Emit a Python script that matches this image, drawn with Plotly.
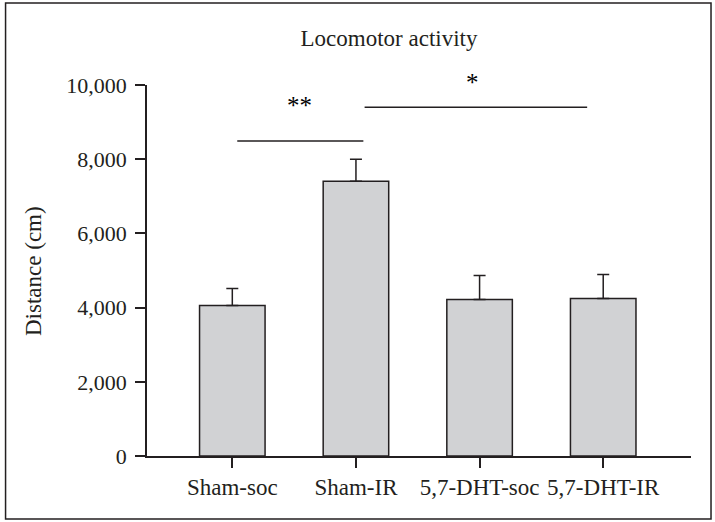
import plotly.graph_objects as go

categories = ["Sham-soc", "Sham-IR", "5,7-DHT-soc", "5,7-DHT-IR"]
means = [4055, 7405, 4215, 4245]
sem = [460, 595, 650, 645]
y_ticks = [0, 2000, 4000, 6000, 8000, 10000]
y_ticktext = ["0", "2,000", "4,000", "6,000", "8,000", "10,000"]

# (line x0, line x1, line y, label, label x, label y in paper units)
sig_pairs = [(0.04, 1.06, 8490, "**", 0.54, 0.946), (1.07, 2.87, 9400, "*", 1.94, 1.008)]

FONT = "Liberation Serif"
INK = "#231f20"

xpos = list(range(len(categories)))

fig = go.Figure()
fig.add_trace(go.Bar(
    x=xpos, y=means, width=0.53,
    marker=dict(color="#d1d2d4", line=dict(color=INK, width=1.5)),
    error_y=dict(type="data", array=sem, arrayminus=[0] * len(sem), symmetric=False,
                 color=INK, thickness=1.5, width=6),
    showlegend=False,
))

shapes = []
annotations = []
for x0, x1, yl, txt, xt, yt in sig_pairs:
    shapes.append(dict(type="line", xref="x", yref="y", x0=x0, x1=x1, y0=yl, y1=yl,
                       line=dict(color=INK, width=1.5)))
    annotations.append(dict(x=xt, y=yt, xref="x", yref="paper", text=txt, showarrow=False,
                            font=dict(family=FONT, size=25, color="#000000"),
                            xanchor="center", yanchor="middle"))

# border around whole figure
shapes.append(dict(type="rect", xref="paper", yref="paper", x0=-0.260, x1=1.0368, y0=-0.170, y1=1.221,
                   line=dict(color=INK, width=1.5), layer="below"))

annotations.append(dict(x=-0.2077, y=0.4987, xref="paper", yref="paper", text="Distance (cm)",
                        textangle=-90, showarrow=False, xanchor="center", yanchor="middle",
                        font=dict(family=FONT, size=23, color=INK)))

fig.update_layout(
    width=715, height=522,
    margin=dict(l=147, r=24, t=85, b=66),
    paper_bgcolor="white", plot_bgcolor="white",
    title=dict(text="Locomotor activity", x=389 / 715, xref="container", xanchor="center",
               y=1 - 38 / 522, yanchor="middle", yref="container",
               font=dict(family=FONT, size=23, color=INK)),
    font=dict(family=FONT, color=INK, size=22),
    shapes=shapes, annotations=annotations,
)
fig.update_xaxes(range=[-0.69, 3.71], tickmode="array", tickvals=xpos, ticktext=categories,
                 showline=True, linecolor=INK, linewidth=1.5, ticks="outside", ticklen=10,
                 tickcolor=INK, tickwidth=1.5, showgrid=False, zeroline=False,
                 tickfont=dict(family=FONT, size=23, color=INK))
fig.update_yaxes(range=[0, 10000], tickmode="array", tickvals=y_ticks, ticktext=y_ticktext,
                 showline=True, linecolor=INK, linewidth=1.5, ticks="outside", ticklen=10,
                 tickcolor=INK, tickwidth=1.5, showgrid=False, zeroline=False,
                 ticklabelstandoff=4,
                 tickfont=dict(family=FONT, size=22, color=INK))

fig.write_html("out.html", config={"displayModeBar": False},
               post_script="document.body.style.margin='0';")
